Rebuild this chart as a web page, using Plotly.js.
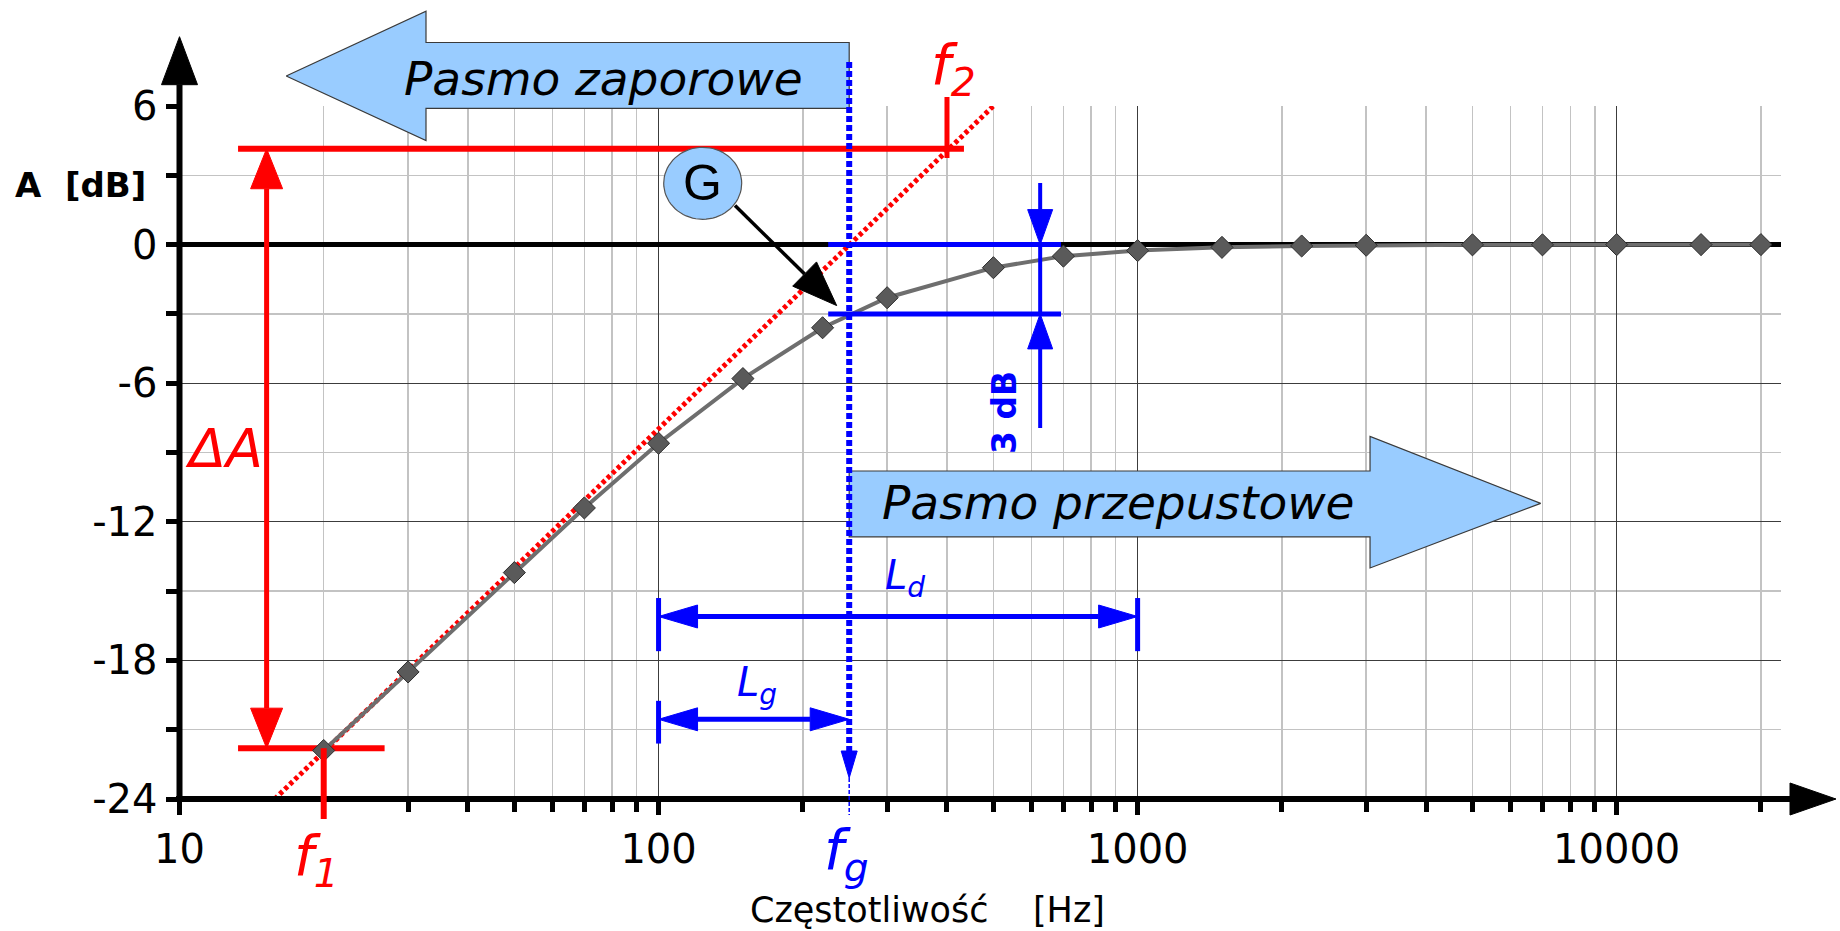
<!DOCTYPE html>
<html><head><meta charset="utf-8">
<script src="https://cdn.plot.ly/plotly-3.0.1.min.js"></script>
<style>html,body{margin:0;padding:0;background:#fff;overflow:hidden}</style>
</head><body>
<div id="chart" style="width:1840px;height:931px"></div>
<script>
// ---------------- data ----------------
const frequencyHz = [20,30,50,70,100,150,220,300,500,700,1000,1500,2200,3000,5000,7000,10000,15000,20000];
const gainDb      = [-21.9,-18.5,-14.2,-11.4,-8.6,-5.8,-3.6,-2.3,-1.0,-0.5,-0.26,-0.12,-0.06,-0.03,-0.01,-0.01,0,0,0];
const asymptoteHz = [15.8, 500];
const asymptoteDb = [-24, 6];
const xTickVals = [10,100,1000,10000];
const xTickText = ['10','100','1000','10000'];
const xMinorVals = [20,30,40,50,60,70,80,90,200,300,400,500,600,700,800,900,2000,3000,4000,5000,6000,7000,8000,9000,20000];
const yTickVals = [-24,-18,-12,-6,0,6];
const yTickText = ['-24','-18','-12','-6','0','6'];
const yMinorVals = [-21,-15,-9,-3,3];
// annotated frequencies / levels
const f1Hz = 20, f2Hz = 400, fgHz = 250;
const f1Db = -21.8, f2Db = 4.15;
const lgHz = [100, 250], ldHz = [100, 1000];
const lgDb = -20.55, ldDb = -16.1;
const cutHz = 626;   // position of the 3 dB marker

// ---------------- geometry ----------------
const W = 1840, H = 931;
const PL = 179.5, PR = 1781, PT = 106, PB = 799;
const XR = [1, 4.343], YR = [-24, 6];
function px(f){ return PL + (Math.log10(f) - XR[0]) / (XR[1] - XR[0]) * (PR - PL); }
function fx(p){ return Math.pow(10, XR[0] + (p - PL) / (PR - PL) * (XR[1] - XR[0])); }
function py(a){ return PT + (YR[1] - a) / (YR[1] - YR[0]) * (PB - PT); }
function fy(p){ return YR[1] - (p - PT) / (PB - PT) * (YR[1] - YR[0]); }

const traces = [];
function addTrace(tr, overlay){
  tr.xaxis = overlay ? 'x2' : 'x'; tr.yaxis = overlay ? 'y2' : 'y';
  tr.hoverinfo = 'skip'; tr.showlegend = false; traces.push(tr);
}
function seg(xs, ys, color, width, overlay, dash){
  addTrace({type:'scatter', mode:'lines', x:xs, y:ys, line:{color:color, width:width, dash:dash || 'solid'}}, overlay);
}
function polyData(xs, ys, fill, stroke, sw, overlay){
  addTrace({type:'scatter', mode:'lines', x:xs.concat([xs[0]]), y:ys.concat([ys[0]]), fill:'toself', fillcolor:fill, line:{color:stroke, width:sw}}, overlay);
}
function polyPx(pts, fill, overlay, stroke, sw){
  polyData(pts.map(p => fx(p[0])), pts.map(p => fy(p[1])), fill, stroke || fill, sw || 1, overlay);
}
// arrow head with its tip at (hz, db), pointing along pixel direction (dx, dy); returns base point in data units
function head(hz, db, dx, dy, len, half, color, overlay){
  const tx = px(hz), ty = py(db), n = Math.hypot(dx, dy), ux = dx / n, uy = dy / n;
  const bx = tx - ux * len, by = ty - uy * len;
  polyPx([[tx, ty], [bx - uy * half, by + ux * half], [bx + uy * half, by - ux * half]], color, overlay);
  return [fx(bx), fy(by)];
}

const RED = '#ff0000', BLUE = '#0000ff', LB = '#99ccff', OUT = '#3a3a3a';

// ---------- main axes: red construction + data ----------
seg(asymptoteHz, asymptoteDb, RED, 5, false, '4px,3px');
seg([13.25, 434], [f2Db, f2Db], RED, 6, false);
seg([13.25, 26.8], [f1Db, f1Db], RED, 6, false);
(function(){
  const dAHz = 15.2;
  const b1 = head(dAHz, f2Db, 0, -1, 40, 16, RED, false);
  const b2 = head(dAHz, f1Db, 0, 1, 40, 16, RED, false);
  seg([dAHz, dAHz], [b1[1], b2[1]], RED, 5, false);
})();
addTrace({type:'scatter', mode:'lines+markers', x:frequencyHz, y:gainDb, cliponaxis:false,
  line:{color:'#6e6e6e', width:4},
  marker:{symbol:'diamond', size:17, color:'#5a5a5a', line:{color:'#2e2e2e', width:1}}}, false);

// ---------- overlay: axes arrows ----------
(function(){
  const yb = head(10, fy(36.7), 0, -1, 48, 18, '#000', true);
  seg([10, 10], [fy(802), yb[1]], '#000', 6, true);
  const xb = head(fx(1836), -24, 1, 0, 46, 16, '#000', true);
  seg([fx(176), xb[0]], [-24, -24], '#000', 6, true);
})();
// f1, f2 ticks
seg([f1Hz, f1Hz], [f1Db, fy(819)], RED, 6, true);
seg([f2Hz, f2Hz], [fy(97), fy(158)], RED, 5, true);
// band arrows
polyData([16.7, 32.7, 32.7, fgHz, fgHz, 32.7, 32.7], [7.3, 10.1, 8.75, 8.75, 5.9, 5.9, 4.5], LB, OUT, 1.2, true);
polyData([fgHz, 3056, 3056, 6940, 3056, 3056, fgHz], [-9.8, -9.8, -8.3, -11.2, -14.0, -12.65, -12.65], LB, OUT, 1.2, true);
// 3 dB marker
seg([226, 692], [0, 0], BLUE, 5, true);
seg([226, 692], [-3, -3], BLUE, 5, true);
(function(){
  const t = head(cutHz, 0, 0, 1, 35, 12.5, BLUE, true);
  seg([cutHz, cutHz], [fy(183), t[1]], BLUE, 4, true);
  seg([cutHz, cutHz], [0, -3], BLUE, 4, true);
  const b = head(cutHz, -3, 0, -1, 35, 12.5, BLUE, true);
  seg([cutHz, cutHz], [b[1], fy(428)], BLUE, 4, true);
})();
// L_d and L_g
function dimArrow(hz, db){
  const a = head(hz[0], db, -1, 0, 39, 11.5, BLUE, true);
  const b = head(hz[1], db, 1, 0, 39, 11.5, BLUE, true);
  seg([a[0], b[0]], [db, db], BLUE, 5, true);
}
dimArrow(ldHz, ldDb);
dimArrow(lgHz, lgDb);
seg([ldHz[0], ldHz[0]], [-15.3, -17.6], BLUE, 5, true);
seg([ldHz[1], ldHz[1]], [-15.3, -17.6], BLUE, 5, true);
seg([lgHz[0], lgHz[0]], [-19.75, -21.6], BLUE, 5, true);
// f_g line (on top)
(function(){
  const b = head(fgHz, fy(778), 0, 1, 27, 8, BLUE, true);
  seg([fgHz, fgHz], [fy(62), b[1]], BLUE, 6, true, '6px,3px');
  seg([fgHz, fgHz], [fy(778), fy(815)], BLUE, 1.5, true, '4px,2px');
})();
// G bubble + pointer
(function(){
  const cx = 702.7, cy = 183.3, rx = 39, ry = 36, pts = [];
  for (let i = 0; i < 72; i++) { const t = i / 72 * 2 * Math.PI; pts.push([cx + rx * Math.cos(t), cy + ry * Math.sin(t)]); }
  polyPx(pts, LB, true, '#555', 1.2);
  const sx = 144.4, sy = 1.69, tx = 235.4, ty = -2.64;
  const b = head(tx, ty, px(tx) - px(sx), py(ty) - py(sy), 45, 17, '#000', true);
  seg([sx, b[0]], [sy, b[1]], '#000', 3.5, true);
})();

// ---------- annotations ----------
const FONT = 'DejaVu Sans, Liberation Sans, sans-serif';
const ann = [];
function lab(text, hz, db, size, color, extra){
  ann.push(Object.assign({xref:'x2', yref:'y2', x:Math.log10(hz), y:db, text:text, showarrow:false,
    xanchor:'center', yanchor:'middle', font:{family:FONT, size:size, color:color}}, extra || {}));
}
lab('<i>Pasmo zaporowe</i>', fx(603), fy(78.5), 47, '#000');
lab('<i>Pasmo przepustowe</i>', fx(1118), fy(502.5), 47, '#000');
lab('<i>f</i><sub><i>1</i></sub>', fx(316), fy(859), 56, RED);
lab('<i>f</i><sub><i>g</i></sub>', fx(846), fy(853), 56, BLUE);
lab('<i>f</i><sub><i>2</i></sub>', fx(953), fy(68), 56, RED);
lab('<i>ΔA</i>', fx(224), fy(448), 54, RED);
lab('<i>L</i><sub><i>d</i></sub>', fx(905), fy(578), 40, BLUE);
lab('<i>L</i><sub><i>g</i></sub>', fx(757), fy(685), 40, BLUE);
lab('G', fx(702.7), fy(183.3), 48, '#000', {font:{family:'Liberation Sans, Arial, sans-serif', size:50, color:'#000'}});
lab('<b>3 dB</b>', fx(1004), fy(413), 33, BLUE, {textangle:-90});
ann.push({xref:'paper', yref:'paper', x:13 / W, y:1 - 185 / H, xanchor:'left', yanchor:'middle', showarrow:false,
  text:'<b>A\u00a0\u00a0[dB]</b>', font:{family:FONT, size:34, color:'#000'}});
ann.push({xref:'paper', yref:'paper', x:927.5 / W, y:1 - 910 / H, xanchor:'center', yanchor:'middle', showarrow:false,
  text:'Częstotliwość\u00a0\u00a0\u00a0\u00a0[Hz]', font:{family:FONT, size:35, color:'#000'}});

const layout = {
  width:W, height:H, autosize:false, margin:{l:0, r:0, t:0, b:0, pad:0},
  paper_bgcolor:'#ffffff', plot_bgcolor:'rgba(0,0,0,0)', showlegend:false,
  font:{family:FONT, color:'#000'},
  xaxis:{type:'log', domain:[PL / W, PR / W], anchor:'y', range:XR, tickmode:'array',
    tickvals:xTickVals, ticktext:xTickText, showgrid:true, gridcolor:'#3c3c3c', gridwidth:1.3,
    ticks:'outside', ticklen:15, tickwidth:5, tickcolor:'#000', showline:false, zeroline:false,
    tickfont:{family:FONT, size:40, color:'#000'}, fixedrange:true,
    minor:{tickmode:'array', tickvals:xMinorVals, showgrid:true, gridcolor:'#c3c3c3', gridwidth:1.5,
      ticks:'outside', ticklen:12, tickwidth:5, tickcolor:'#000'}},
  yaxis:{domain:[1 - PB / H, 1 - PT / H], anchor:'x', range:YR, tickmode:'array',
    tickvals:yTickVals, ticktext:yTickText, showgrid:true, gridcolor:'#3c3c3c', gridwidth:1.3,
    ticks:'outside', ticklen:13, tickwidth:5, tickcolor:'#000', showline:false,
    zeroline:true, zerolinecolor:'#000', zerolinewidth:5,
    tickfont:{family:FONT, size:40, color:'#000'}, fixedrange:true,
    minor:{tickmode:'array', tickvals:yMinorVals, showgrid:true, gridcolor:'#c3c3c3', gridwidth:1.5,
      ticks:'outside', ticklen:13, tickwidth:5, tickcolor:'#000'}},
  xaxis2:{type:'log', domain:[0, 1], anchor:'y2', range:[Math.log10(fx(0)), Math.log10(fx(W))], visible:false, fixedrange:true},
  yaxis2:{domain:[0, 1], anchor:'x2', range:[fy(H), fy(0)], visible:false, fixedrange:true},
  annotations:ann
};
Plotly.newPlot('chart', traces, layout, {staticPlot:true, displayModeBar:false}).then(function(gd){
  // drop empty placeholder text nodes (unused titles)
  gd.querySelectorAll('text').forEach(function(t){ if (!t.textContent.trim()) t.remove(); });
});
</script>
</body></html>
